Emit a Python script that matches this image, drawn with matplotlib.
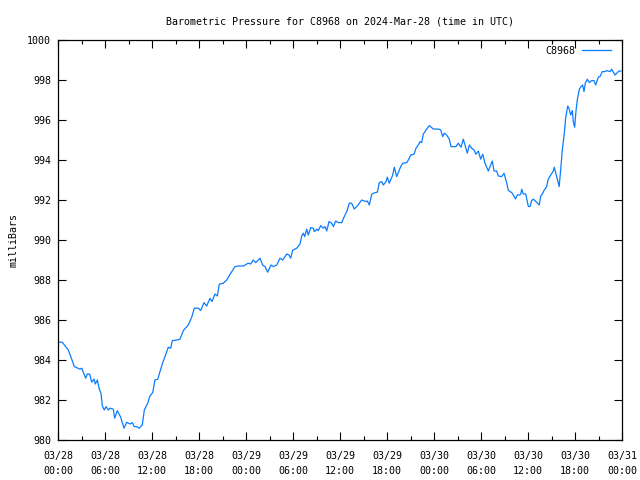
import matplotlib
matplotlib.use("Agg")
import matplotlib.pyplot as plt
from matplotlib.ticker import MultipleLocator

# hours since 2024-03-28 00:00 UTC
hours = [0.0, 0.55, 1.31, 1.75, 2.08, 2.81, 3.03, 3.54, 3.74, 4.05, 4.30, 4.60, 4.76, 5.02, 5.27, 5.49,
         5.66, 5.91, 6.13, 6.42, 6.64, 7.06, 7.24, 7.57, 8.00, 8.43, 8.77, 9.19, 9.49, 9.74, 10.05, 10.34,
         10.76, 11.02, 11.45, 11.74, 12.09, 12.38, 12.73, 13.02, 13.31, 13.66, 14.08, 14.39, 14.59, 15.15,
         15.57, 16.00, 16.63, 17.07, 17.40, 17.91, 18.22, 18.64, 18.98, 19.40, 19.66, 20.04, 20.34, 20.59,
         21.10, 21.54, 22.05, 22.60, 23.02, 23.66, 24.29, 24.60, 24.93, 25.24, 25.79, 26.13, 26.43, 26.77,
         27.19, 27.48, 27.92, 28.34, 28.69, 29.20, 29.49, 29.71, 29.96, 30.47, 30.89, 31.11, 31.31, 31.49,
         31.75, 31.95, 32.26, 32.59, 32.72, 33.03, 33.23, 33.54, 33.87, 34.09, 34.30, 34.60, 34.94, 35.15,
         35.45, 35.78, 36.22, 36.51, 36.86, 37.19, 37.49, 37.82, 38.21, 38.77, 39.32, 39.49, 39.74, 40.05,
         40.47, 40.76, 41.02, 41.32, 41.53, 41.87, 42.04, 42.29, 42.51, 42.73, 42.93, 43.24, 43.44, 43.75,
         44.00, 44.52, 44.72, 45.03, 45.45, 45.70, 46.00, 46.21, 46.43, 46.63, 46.98, 47.40, 47.91, 48.68,
         48.86, 49.11, 49.32, 49.62, 49.95, 50.17, 50.81, 51.10, 51.45, 51.74, 51.96, 52.25, 52.51, 52.81,
         53.11, 53.36, 53.66, 53.96, 54.22, 54.51, 54.93, 55.24, 55.44, 55.66, 56.00, 56.21, 56.64, 56.94,
         57.28, 57.49, 57.92, 58.13, 58.40, 58.64, 58.89, 59.07, 59.20, 59.40, 59.71, 60.04, 60.26, 60.47,
         60.68, 60.89, 61.11, 61.44, 61.62, 61.88, 62.08, 62.36, 62.59, 62.90, 63.23, 63.36, 63.61, 63.77,
         63.98, 64.18, 64.38, 64.60, 64.81, 65.07, 65.23, 65.45, 65.66, 65.78, 65.96, 66.13, 66.29, 66.55,
         66.77, 66.98, 67.15, 67.31, 67.57, 67.83, 68.13, 68.43, 68.64, 68.98, 69.19, 69.49, 69.83, 70.05,
         70.47, 70.69, 70.89, 71.11, 71.32, 71.62, 71.87]

pressure = [984.89, 984.89, 984.50, 984.04, 983.67, 983.54, 983.59, 983.09, 983.30, 983.29, 982.89, 983.05,
            982.80, 983.00, 982.54, 982.34, 981.70, 981.50, 981.67, 981.50, 981.59, 981.54, 981.09, 981.47,
            981.14, 980.59, 980.89, 980.80, 980.87, 980.67, 980.67, 980.59, 980.75, 981.50, 981.84, 982.20,
            982.37, 983.00, 983.04, 983.42, 983.80, 984.17, 984.64, 984.59, 984.97, 985.00, 985.04, 985.47,
            985.75, 986.14, 986.59, 986.59, 986.47, 986.87, 986.70, 987.09, 986.92, 987.30, 987.20, 987.79,
            987.84, 988.00, 988.34, 988.67, 988.70, 988.70, 988.84, 988.80, 989.00, 988.87, 989.09, 988.75,
            988.67, 988.39, 988.75, 988.67, 988.75, 989.09, 989.00, 989.30, 989.25, 989.09, 989.49, 989.59,
            989.79, 990.20, 990.34, 990.17, 990.54, 990.25, 990.62, 990.59, 990.42, 990.54, 990.47, 990.72,
            990.59, 990.67, 990.45, 990.92, 990.84, 990.67, 990.95, 990.87, 990.87, 991.14, 991.42, 991.84,
            991.84, 991.55, 991.70, 992.00, 991.92, 991.95, 991.75, 992.29, 992.37, 992.39, 992.87, 992.92,
            992.75, 992.92, 993.14, 992.84, 993.04, 993.25, 993.64, 993.17, 993.37, 993.67, 993.84, 993.87,
            994.00, 994.25, 994.29, 994.59, 994.75, 994.92, 994.87, 995.29, 995.50, 995.72, 995.55, 995.54,
            995.50, 995.17, 995.34, 995.25, 995.04, 994.67, 994.67, 994.84, 994.64, 995.04, 994.75, 994.34,
            994.75, 994.59, 994.50, 994.29, 994.45, 994.04, 994.29, 993.84, 993.45, 993.75, 993.95, 993.45,
            993.45, 993.20, 993.17, 993.34, 992.85, 992.48, 992.37, 992.25, 992.05, 992.25, 992.25, 992.29,
            992.54, 992.30, 992.30, 991.68, 991.67, 991.98, 992.04, 991.97, 991.88, 991.75, 992.20, 992.34,
            992.50, 992.65, 993.04, 993.25, 993.45, 993.64, 993.25, 993.00, 992.67, 993.55, 994.50, 995.20,
            996.10, 996.70, 996.59, 996.25, 996.47, 995.92, 995.64, 996.47, 997.00, 997.54, 997.67, 997.75,
            997.42, 997.84, 998.04, 997.87, 997.97, 997.97, 997.75, 998.14, 998.17, 998.42, 998.42, 998.47,
            998.42, 998.54, 998.39, 998.25, 998.34, 998.45, 998.45]

tick_hours = [0, 6, 12, 18, 24, 30, 36, 42, 48, 54, 60, 66, 72]
tick_labels = ["03/28\n00:00", "03/28\n06:00", "03/28\n12:00", "03/28\n18:00",
               "03/29\n00:00", "03/29\n06:00", "03/29\n12:00", "03/29\n18:00",
               "03/30\n00:00", "03/30\n06:00", "03/30\n12:00", "03/30\n18:00",
               "03/31\n00:00"]
y_ticks = [980, 982, 984, 986, 988, 990, 992, 994, 996, 998, 1000]

FONT = "DejaVu Sans Mono"
FS = 7.2

fig = plt.figure(figsize=(6.4, 4.8), dpi=100)
ax = fig.add_axes([58/640, 40/480, 564/640, 400/480])
ax.plot(hours, pressure, color="#0a7cff", linewidth=0.9, label="C8968")
ax.set_xlim(0, 72)
ax.set_ylim(980, 1000)
ax.set_xticks(tick_hours)
ax.set_xticklabels(tick_labels, fontfamily=FONT, fontsize=FS, linespacing=1.6)
ax.xaxis.set_minor_locator(MultipleLocator(3))
ax.set_yticks(y_ticks)
ax.set_yticklabels([str(v) for v in y_ticks], fontfamily=FONT, fontsize=FS)
ax.tick_params(which="major", direction="in", length=6, width=0.8, top=True, right=True)
ax.tick_params(axis="x", which="major", pad=8)
ax.tick_params(axis="y", which="major", pad=5)
ax.tick_params(which="minor", direction="in", length=3, width=0.8, top=True, right=False)
ax.tick_params(axis="y", which="minor", left=False, right=False)
for s in ax.spines.values():
    s.set_linewidth(0.9)
ax.set_title("Barometric Pressure for C8968 on 2024-Mar-28 (time in UTC)",
             fontfamily=FONT, fontsize=FS, pad=11.5)
ax.set_ylabel("milliBars", fontfamily=FONT, fontsize=FS, labelpad=6)
leg = ax.legend(loc="upper right", frameon=False, prop={"family": FONT, "size": FS},
                markerfirst=False, handlelength=2.9, handletextpad=0.7,
                borderpad=0, borderaxespad=0,
                bbox_to_anchor=((611 - 58) / 564, (440 - 46) / 400))
fig.savefig("out.png", dpi=100)
